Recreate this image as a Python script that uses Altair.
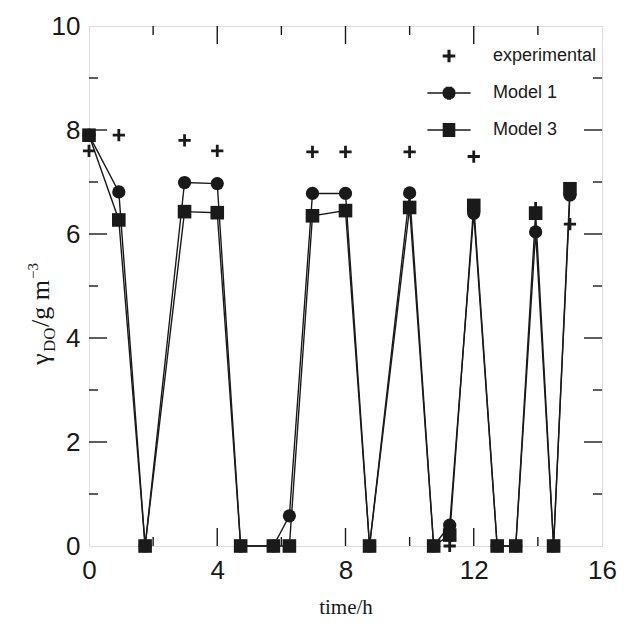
import altair as alt
import pandas as pd
import math

# ---- data ----
t_model = [0.0, 0.93, 1.75, 2.98, 4.0, 4.73, 5.75, 6.25, 6.97, 8.0, 8.75, 10.0,
           10.75, 11.25, 12.0, 12.73, 13.31, 13.93, 14.49, 15.0]
model1 = [7.9, 6.81, 0.0, 6.99, 6.97, 0.0, 0.0, 0.58, 6.78, 6.78, 0.0, 6.79,
          0.0, 0.40, 6.40, 0.0, 0.0, 6.04, 0.0, 6.75]
model3 = [7.9, 6.27, 0.0, 6.43, 6.41, 0.0, 0.0, 0.0, 6.35, 6.45, 0.0, 6.51,
          0.0, 0.21, 6.55, 0.0, 0.0, 6.40, 0.0, 6.87]
t_exp = [0.0, 0.93, 2.98, 4.0, 6.97, 8.0, 10.0, 11.25, 12.0, 13.93, 15.0]
experimental = [7.6, 7.9, 7.8, 7.6, 7.58, 7.58, 7.58, 0.0, 7.49, 6.5, 6.19]

series_names = ["experimental", "Model 1", "Model 3"]
x_major = [4, 8, 12]
x_minor = [2, 6, 10, 14]
y_major = [2, 4, 6, 8]
y_minor = [1, 3, 5, 7, 9]
x_labels = [0, 4, 8, 12, 16]
y_labels = [0, 2, 4, 6, 8, 10]

W, H = 513, 520
MAJ, MIN = 18, 9
INK = "#1a1a1a"

df_m1 = pd.DataFrame({"t": t_model, "v": model1, "series": "Model 1"})
df_m3 = pd.DataFrame({"t": t_model, "v": model3, "series": "Model 3"})
df_exp = pd.DataFrame({"t": t_exp, "v": experimental, "series": "experimental"})
df_all = pd.concat([df_exp, df_m1, df_m3], ignore_index=True)

xs = alt.Scale(domain=[0, 16], nice=False, zero=False)
ys = alt.Scale(domain=[0, 10], nice=False, zero=False)

X = alt.X("t:Q", scale=xs, axis=alt.Axis(values=x_labels, format="d", ticks=False,
          domain=False, grid=False, labelFontSize=26, labelFont="Liberation Sans",
          labelColor=INK, labelPadding=11, labelFlush=False, title="time/h",
          titleFont="Liberation Serif", titleFontSize=21, titleFontWeight="normal",
          titleColor=INK, titlePadding=13))
Y = alt.Y("v:Q", scale=ys, axis=alt.Axis(values=y_labels, format="d", ticks=False,
          domain=False, grid=False, labelFontSize=26, labelFont="Liberation Sans",
          labelColor=INK, labelPadding=9, labelFlush=False, title=None))

lines = alt.Chart(pd.concat([df_m1, df_m3])).mark_line(color=INK, strokeWidth=1.4).encode(
    x=X, y=Y, detail="series:N")

plus_path = "M-1,0H1M0,-1V1"
p_exp = alt.Chart(df_exp).mark_point(shape=plus_path, filled=False, size=150,
                                     strokeWidth=2.8, color=INK, opacity=1).encode(x="t:Q", y="v:Q")
p_m1 = alt.Chart(df_m1).mark_point(shape="circle", filled=True, size=175,
                                   color=INK, opacity=1).encode(x="t:Q", y="v:Q")
p_m3 = alt.Chart(df_m3).mark_point(shape="square", filled=True, size=185,
                                   color=INK, opacity=1).encode(x="t:Q", y="v:Q")

# legend symbols: stroke-only paths (line + solid-looking marker), unit = 9 px
def hline_fill(half_w_fn, r, step=0.1):
    parts = []
    n = int(round(2 * r / step))
    for i in range(n + 1):
        yy = -r + i * step
        hw = half_w_fn(yy)
        if hw > 0:
            parts.append(f"M{-hw:.3f},{yy:.3f}H{hw:.3f}")
    return "".join(parts)

leg_plus = ("M-0.7,0H0.7M-0.7,-0.1H0.7M-0.7,0.1H0.7"
            "M0,-0.7V0.7M-0.1,-0.7V0.7M0.1,-0.7V0.7")
r_c = 0.72
leg_circ = "M-2.4,0H2.4" + hline_fill(lambda yy: math.sqrt(max(r_c * r_c - yy * yy, 0)), r_c)
leg_sq = "M-2.4,0H2.4" + hline_fill(lambda yy: 0.7, 0.7)

legend_layer = alt.Chart(df_all).mark_point(filled=False, stroke=INK, color=INK,
                                            strokeWidth=1.3, opacity=0, size=324).encode(
    x="t:Q", y="v:Q",
    shape=alt.Shape("series:N", scale=alt.Scale(domain=series_names,
                                                range=[leg_plus, leg_circ, leg_sq]),
                    legend=alt.Legend(title=None, orient="none", legendX=350, legendY=20,
                                      padding=0, rowPadding=18, labelOffset=34,
                                      labelFont="Liberation Sans", labelFontSize=18,
                                      labelColor=INK, symbolOpacity=1,
                                      symbolStrokeColor=INK,
                                      symbolStrokeWidth=1.3, symbolSize=324)))

# inner ticks
def tick_layers():
    out = []
    for vals, ln in ((x_major, MAJ), (x_minor, MIN)):
        d = pd.DataFrame({"t": vals})
        out.append(alt.Chart(d).mark_rule(color=INK, strokeWidth=1.4).encode(
            x="t:Q", y=alt.value(H), y2=alt.value(H - ln)))
        out.append(alt.Chart(d).mark_rule(color=INK, strokeWidth=1.4).encode(
            x="t:Q", y=alt.value(0), y2=alt.value(ln)))
    for vals, ln in ((y_major, MAJ), (y_minor, MIN)):
        d = pd.DataFrame({"v": vals})
        out.append(alt.Chart(d).mark_rule(color=INK, strokeWidth=1.4).encode(
            y="v:Q", x=alt.value(0), x2=alt.value(ln)))
        out.append(alt.Chart(d).mark_rule(color=INK, strokeWidth=1.4).encode(
            y="v:Q", x=alt.value(W), x2=alt.value(W - ln)))
    return out

# y axis title pieces (rotated), gamma_DO / g m^-3
title_df = pd.DataFrame({"k": [0]})
TX = -40
def tpart(txt, y, size, dx):
    return alt.Chart(title_df).mark_text(text=txt, angle=270, align="left",
                                         baseline="alphabetic", font="Liberation Serif",
                                         fontSize=size, color=INK).encode(
        x=alt.value(TX + dx), y=alt.value(y))

ytitle = [
    tpart("γ", 339, 26, 0),
    tpart("DO", 326, 17, 6),
    tpart("/g m", 301, 26, 0),
    tpart("−3", 253, 15, -11),
]

chart = alt.layer(lines, p_exp, p_m1, p_m3, legend_layer, *tick_layers(), *ytitle).properties(
    width=W, height=H,
    autosize=alt.AutoSizeParams(type="none"),
    padding={"left": 81, "top": 18, "right": 16, "bottom": 72},
).configure_view(stroke=INK, strokeWidth=1.5).configure(background="white")

chart.save("out.html", embed_options={"renderer": "svg", "actions": False})
